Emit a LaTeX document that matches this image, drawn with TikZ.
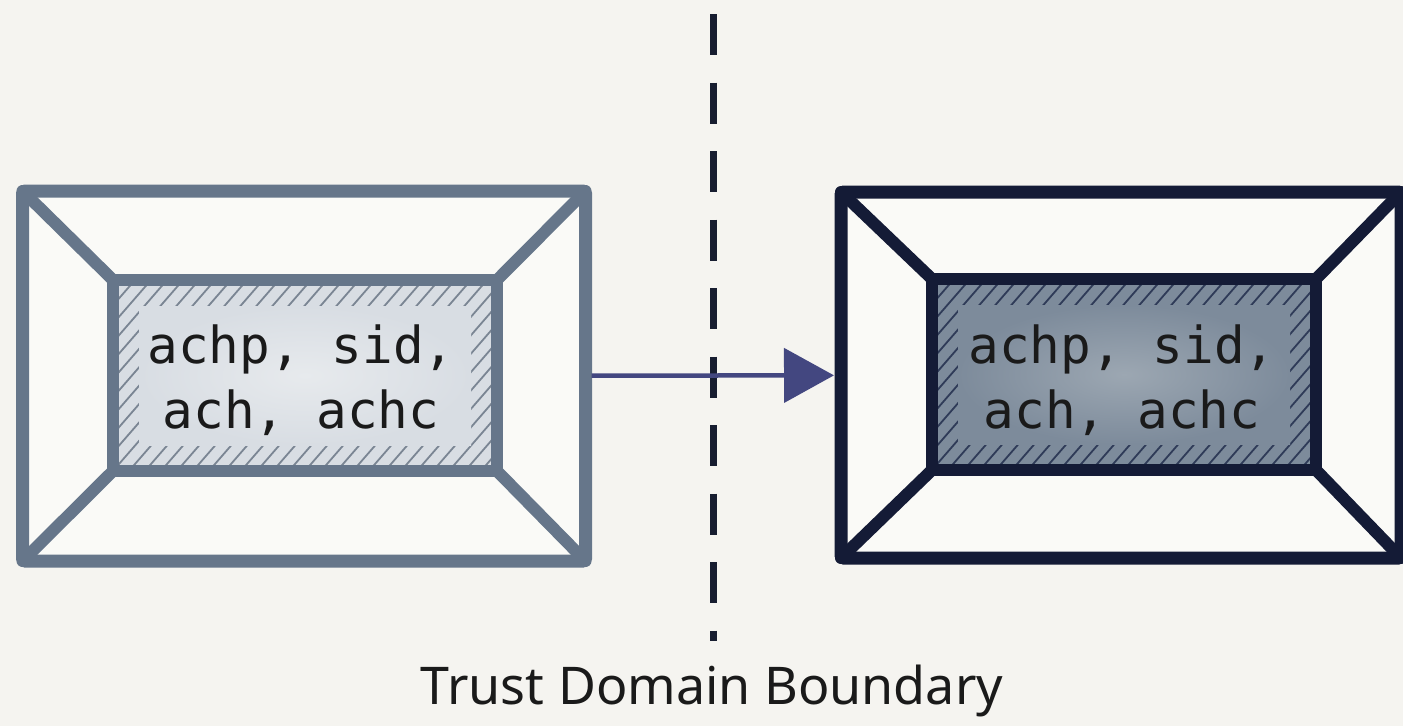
\documentclass[tikz,border=0pt]{standalone}
\usepackage{fontspec}
\newfontfamily\monofont{DejaVu Sans Mono}
\newfontfamily\captionfont{Noto Sans}
\usetikzlibrary{arrows.meta,calc,backgrounds}

\definecolor{page}{HTML}{F5F4F0}
\definecolor{boxface}{HTML}{FAFAF7}
\definecolor{slate}{HTML}{66768A}
\definecolor{navy}{HTML}{141B36}
\definecolor{lfillA}{HTML}{E7EAED}
\definecolor{lfillB}{HTML}{D8DDE3}
\definecolor{lhatch}{HTML}{7A8593}
\definecolor{rfillA}{HTML}{9CA7B2}
\definecolor{rfillB}{HTML}{7D8B9B}
\definecolor{rhatch}{HTML}{2F3B58}
\definecolor{arrowc}{HTML}{434780}
\definecolor{dashc}{HTML}{171D30}
\definecolor{ink}{HTML}{1A1A1A}

\tikzset{
  outerbox/.style={rectangle, draw, line width=13pt, rounded corners=3pt,
    outer sep=0pt, inner sep=0pt},
  innerbox/.style={rectangle, draw, line width=12pt, outer sep=0pt, inner sep=0pt,
    minimum width=384pt, minimum height=191pt},
  paneltext/.style={align=center, text=ink, inner sep=0pt,
    font=\monofont\fontsize{51}{65}\selectfont},
  spoke/.style={line width=12pt, line cap=round},
  boundary/.style={dashc, line width=7pt, dash pattern=on 41pt off 27.5pt},
  flow/.style={arrowc, line width=4.5pt, shorten <=6pt, shorten >=7pt,
    -{Triangle[length=50pt, width=54pt]}},
  caption/.style={text=ink, font=\captionfont\fontsize{52}{60}\selectfont}
}

% hatched panel behind a content node: #1 node, #2 centre tint, #3 edge tint, #4 hatch colour
\newcommand\hatchpanel[4]{%
  \begin{scope}
    \clip (#1.north west) rectangle (#1.south east);
    \fill[#3] (#1.north west) rectangle (#1.south east);
    \foreach \k in {0,...,38}
      \draw[#4, line width=1.8pt] ($(#1.north west)+(\k*16-10,0)$) -- ++(-200,230);
    \shade[inner color=#2, outer color=#3]
      ($(#1.north west)+(26,26)$) rectangle ($(#1.south east)+(-26,-26)$);
  \end{scope}}

\begin{document}
\begin{tikzpicture}[x=1pt, y=-1pt]
  \useasboundingbox (0,0) rectangle (1403,726);

  % source enclosure
  \node[outerbox, draw=slate, minimum width=563pt, minimum height=370pt] (L) at (304,376) {};
  \node[innerbox, draw=slate] (Li) at (305,375.5) {};
  \node[paneltext] (Lt) at (301,380) {achp, sid,\\ach, achc};
  \foreach \c in {north west, north east, south west, south east}
    \draw[spoke, slate] (L.\c) -- (Li.\c);

  % target enclosure
  \node[outerbox, draw=navy, minimum width=560pt, minimum height=366pt] (R) at (1121,375) {};
  \node[innerbox, draw=navy] (Ri) at (1124,374.5) {};
  \node[paneltext] (Rt) at (1122,380) {achp, sid,\\ach, achc};
  \foreach \c in {north west, north east, south west, south east}
    \draw[spoke, navy] (R.\c) -- (Ri.\c);

  \begin{scope}[on background layer]
    \fill[page] (0,0) rectangle (1403,726);
    \fill[boxface] (L.north west) rectangle (L.south east);
    \fill[boxface] (R.north west) rectangle (R.south east);
    \hatchpanel{Li}{lfillA}{lfillB}{lhatch}
    \hatchpanel{Ri}{rfillA}{rfillB}{rhatch}
  \end{scope}

  % trust boundary
  \coordinate (btop) at (713,14);
  \coordinate (bbot) at (713,641);
  \draw[boundary] (btop) -- (bbot);
  \node[caption] (cap) at (712,691) {Trust Domain Boundary};

  % transfer across the boundary
  \draw[flow] (L) -- (R);
\end{tikzpicture}
\end{document}
